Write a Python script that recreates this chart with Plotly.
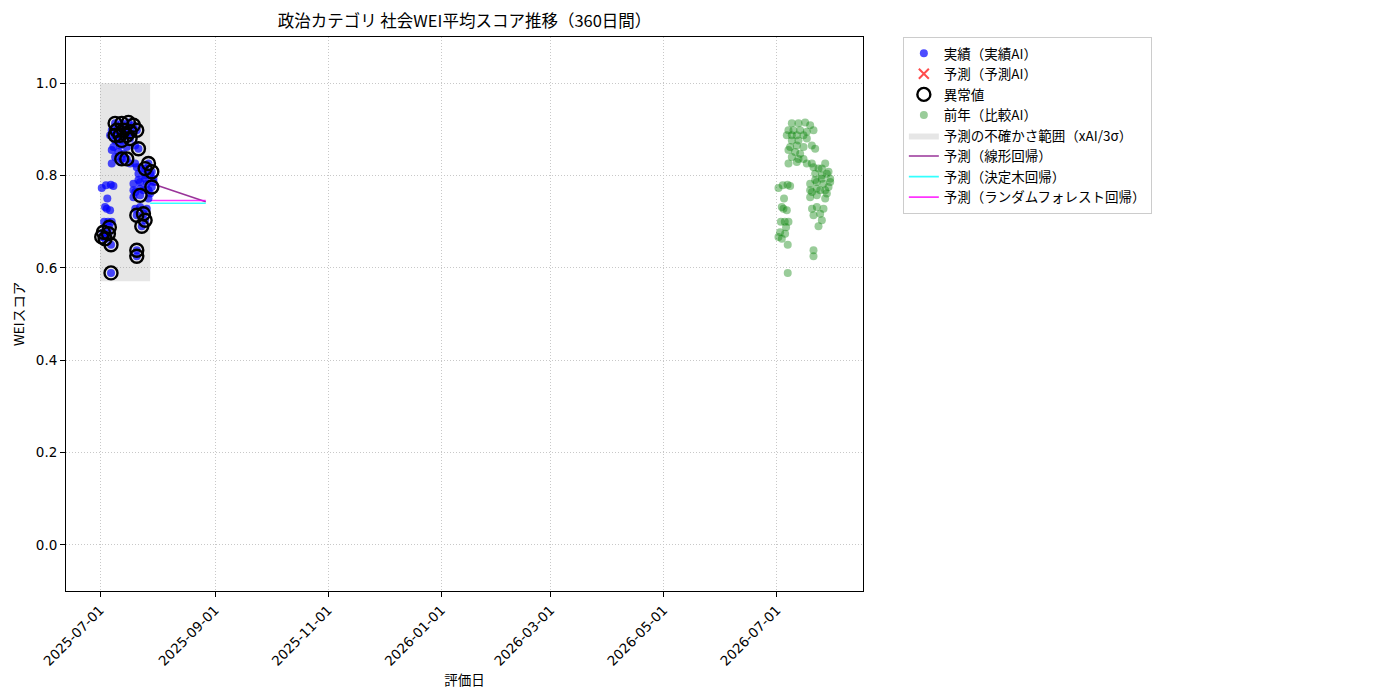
import pandas as pd
import plotly.graph_objects as go

# day offsets from start (2025-07-01) and WEI scores
days = [0.9, 3.2, 5.8, 7.2, 3.9, 2.7, 3.6, 5.4, 2.2, 4.3, 6.3, 5.0, 1.8, 4.5, 0.9, 2.7, 5.9, 5.9,
        8.1, 11.7, 15.3, 18.0, 19.8, 6.3, 9.0, 12.6, 16.2, 5.4, 8.1, 10.8, 14.4, 8.1, 11.7, 16.2,
        7.2, 10.8, 14.4, 18.9, 20.7, 6.3, 9.9, 12.6, 8.1, 11.7, 14.4, 6.3, 10.8, 16.2,
        18.9, 22.5, 26.1, 20.7, 24.3, 27.0, 28.8, 18.0, 21.6, 25.2, 18.0, 21.6, 26.1, 18.0, 21.6, 26.1,
        19.8, 24.3, 27.9, 20.7, 24.3, 28.8, 19.0, 23.4, 27.0, 27.9, 19.0, 21.6, 25.2, 19.8, 23.4, 24.3,
        22.5, 19.8, 19.8]
scores = [0.773, 0.779, 0.780, 0.777, 0.750, 0.732, 0.728, 0.725, 0.700, 0.700, 0.700, 0.688, 0.677, 0.674, 0.667, 0.663, 0.650, 0.589,
          0.913, 0.913, 0.915, 0.909, 0.898, 0.898, 0.898, 0.898, 0.895, 0.887, 0.887, 0.887, 0.887, 0.876, 0.876, 0.880,
          0.862, 0.865, 0.862, 0.865, 0.858, 0.855, 0.851, 0.847, 0.840, 0.836, 0.836, 0.826, 0.829, 0.826,
          0.826, 0.815, 0.826, 0.804, 0.800, 0.804, 0.793, 0.782, 0.786, 0.782, 0.768, 0.772, 0.768, 0.753, 0.757, 0.750,
          0.818, 0.815, 0.808, 0.790, 0.793, 0.786, 0.764, 0.768, 0.761, 0.775, 0.728, 0.732, 0.728, 0.714, 0.717, 0.703,
          0.690, 0.638, 0.625]
anomaly_idx = [18, 17, 16, 15, 14, 13, 12, 11, 82, 81, 80, 78, 79, 77, 73, 62, 65, 66, 50, 38, 43, 44,
               19, 20, 21, 22, 24, 25, 26, 28, 29, 30, 32, 33]

start = pd.Timestamp("2025-07-01")
prev_start = pd.Timestamp("2026-07-01")
dates = [start + pd.Timedelta(days=d) for d in days]
prev_dates = [prev_start + pd.Timedelta(days=d) for d in days]
anom_dates = [dates[i] for i in anomaly_idx]
anom_scores = [scores[i] for i in anomaly_idx]

band_x = ["2025-07-01", "2025-07-28"]
band_lo = 0.571
band_hi = 1.0

pred_x = ["2025-07-28", "2025-08-27"]
pred_linear = [0.784, 0.743]
pred_tree = [0.740, 0.740]
pred_rf = [0.746, 0.746]

fig = go.Figure()

fig.add_trace(go.Scatter(
    x=[band_x[0], band_x[1], band_x[1], band_x[0], band_x[0]],
    y=[band_lo, band_lo, band_hi, band_hi, band_lo],
    fill="toself", fillcolor="rgba(128,128,128,0.2)", line=dict(width=0),
    mode="lines", name="予測の不確かさ範囲（xAI/3σ）", legendrank=5))

fig.add_trace(go.Scatter(x=pred_x, y=pred_linear, mode="lines", line=dict(color="rgba(128,0,128,0.8)", width=1.6),
                         name="予測（線形回帰）", legendrank=6))
fig.add_trace(go.Scatter(x=pred_x, y=pred_tree, mode="lines", line=dict(color="rgba(0,255,255,0.8)", width=1.6),
                         name="予測（決定木回帰）", legendrank=7))
fig.add_trace(go.Scatter(x=pred_x, y=pred_rf, mode="lines", line=dict(color="rgba(255,0,255,0.8)", width=1.6),
                         name="予測（ランダムフォレスト回帰）", legendrank=8))

fig.add_trace(go.Scatter(x=dates, y=scores, mode="markers",
                         marker=dict(color="rgba(0,0,255,0.7)", size=8),
                         name="実績（実績AI）", legendrank=1))
fig.add_trace(go.Scatter(x=[None], y=[None], mode="markers",
                         marker=dict(color="rgba(255,0,0,0.7)", size=10, symbol="x-thin-open",
                                     line=dict(color="rgba(255,0,0,0.7)", width=2)),
                         name="予測（予測AI）", legendrank=2))
fig.add_trace(go.Scatter(x=anom_dates, y=anom_scores, mode="markers",
                         marker=dict(color="black", size=13, symbol="circle-open", line=dict(color="black", width=2.4)),
                         name="異常値", legendrank=3))
fig.add_trace(go.Scatter(x=prev_dates, y=scores, mode="markers",
                         marker=dict(color="rgba(0,128,0,0.4)", size=8),
                         name="前年（比較AI）", legendrank=4))

axis_common = dict(showline=True, linecolor="black", linewidth=1, mirror=True,
                   ticks="outside", ticklen=5, tickcolor="black", automargin=False,
                   showgrid=True, gridcolor="#c8c8c8", griddash="1px,2px", gridwidth=0.8,
                   zeroline=False, tickfont=dict(family="DejaVu Sans", size=13.5, color="black"))

# page body has an 8px margin, so the plot area is shifted by that
fig.update_layout(
    width=1400, height=700,
    paper_bgcolor="white", plot_bgcolor="white",
    font=dict(family="Noto Sans CJK JP", size=13, color="black"),
    title=dict(text="政治カテゴリ 社会WEI平均スコア推移（360日間）", x=(58 + 855) / 2 / 1400, xanchor="center",
               y=1 - 13 / 700, yanchor="middle", yref="container", font=dict(size=16.5)),
    margin=dict(l=58, r=545, t=29, b=117),
    legend=dict(x=1.05, y=1.0, xanchor="left", yanchor="top", bordercolor="#cccccc", borderwidth=1,
                bgcolor="white", font=dict(size=13.5), tracegroupgap=0),
    xaxis=dict(axis_common, range=["2025-06-12 15:00", "2026-08-16 12:00"],
               tickvals=["2025-07-01", "2025-09-01", "2025-11-01", "2026-01-01", "2026-03-01", "2026-05-01", "2026-07-01"],
               tickformat="%Y-%m-%d", tickangle=-45,
               title=dict(text="評価日", font=dict(size=13.5), standoff=0)),
    yaxis=dict(axis_common, range=[-0.1, 1.1], tickvals=[0.0, 0.2, 0.4, 0.6, 0.8, 1.0], tickformat=".1f",
               title=dict(text="WEIスコア", font=dict(size=13.5), standoff=8)),
)

fig.write_html("out.html")
